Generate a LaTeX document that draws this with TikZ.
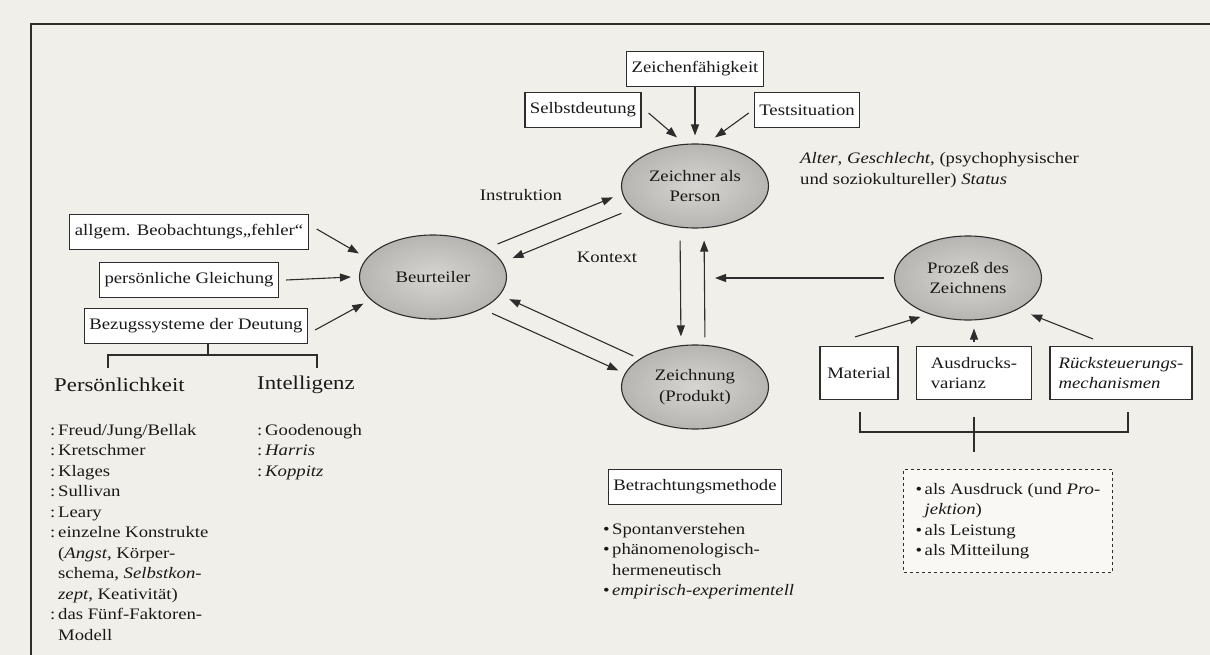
\documentclass[tikz,border=0pt]{standalone}
\usepackage{fontspec}
\setmainfont{Liberation Serif}[FakeStretch=1.17, UprightFont=*, ItalicFont=* Italic, BoldFont=* Bold]
\usetikzlibrary{arrows.meta,positioning,shapes.geometric}
\definecolor{papier}{RGB}{241,239,233}
\definecolor{strich}{RGB}{45,45,45}
\definecolor{ovalhell}{RGB}{214,213,209}
\definecolor{ovaldunkel}{RGB}{182,181,177}
\newcommand{\dopp}{\makebox[8pt][l]{:}}
\newcommand{\einz}{\hspace*{8pt}}
\newcommand{\pkt}{\makebox[9pt][l]{\textbullet}}
\newcommand{\pein}{\hspace*{9pt}}

\begin{document}
\begin{tikzpicture}[x=1pt, y=-1pt, font=\fontsize{16}{20.5}\selectfont, text=black!90,
  box/.style={draw=strich, fill=white, line width=1.1pt, minimum height=35pt, inner xsep=5pt},
  oval/.style={ellipse, draw=strich, line width=1.1pt, shade, inner color=ovalhell, outer color=ovaldunkel, minimum width=147pt, minimum height=84pt, inner sep=0pt, align=center},
  pfeil/.style={draw=strich, line width=1.1pt, -{Triangle[length=11pt,width=8pt]}},
  linie/.style={draw=strich, line width=1.1pt},
  liste/.style={align=left, inner sep=0pt, anchor=north west},
  titel/.style={font=\fontsize{19.5}{22}\selectfont, anchor=west, inner sep=0pt}]
  \useasboundingbox (0,0) rectangle (1210,655);
  \fill[papier] (0,0) rectangle (1210,655);
  \draw[strich, line width=1.6pt] (31,655) -- (31,24) -- (1210,24);

  \node[oval] (zeichner) at (695,186) {Zeichner als\\Person};
  \node[oval] (beurt) at (433,277) {Beurteiler};
  \node[oval, below of=zeichner, node distance=201pt] (zeichn) {Zeichnung\\(Produkt)};
  \node[oval] (prozess) at (968,278) {Prozeß des\\Zeichnens};

  \node[box, above of=zeichner, node distance=117pt] (zfaeh) {Zeichenfähigkeit};
  \node[box, left of=zfaeh, node distance=112pt, yshift=-41pt] (selbstd) {Selbstdeutung};
  \node[box, right of=zfaeh, node distance=112pt, yshift=-41pt] (testsit) {Testsituation};
  \node[anchor=west, align=left, inner sep=0pt] (alter) at (800,170) {\textit{Alter}, \textit{Geschlecht}, (psychophysischer\\und soziokultureller) \textit{Status}};

  \node[box] (allg) at (189,232) {allgem. Beobachtungs„fehler“};
  \node[box, below of=allg, node distance=48pt] (persgl) {persönliche Gleichung};
  \node[box, below of=persgl, node distance=46pt, xshift=7pt] (bezug) {Bezugssysteme der Deutung};

  \node (instr) at (521,195) {Instruktion};
  \node (kontext) at (607,257) {Kontext};

  \coordinate (gabel) at (208,355);
  \coordinate (astL) at (108,368);
  \coordinate (astR) at (317,368);
  \draw[linie] (bezug.south -| gabel) -- (gabel);
  \draw[linie] (astL) |- (gabel) -| (astR);
  \node[titel] (perslk) at (54,385) {Persönlichkeit};
  \node[titel] (intell) at (257,385) {Intelligenz};
  \node[liste] (perslist) at (50,424) {\dopp Freud/Jung/Bellak\\ \dopp Kretschmer\\ \dopp Klages\\ \dopp Sullivan\\ \dopp Leary\\ \dopp einzelne Konstrukte\\ \einz(\textit{Angst}, Körper-\\ \einz schema, \textit{Selbstkon-}\\ \einz\textit{zept}, Keativität)\\ \dopp das Fünf-Faktoren-\\ \einz Modell};
  \node[liste] (intlist) at (257,424) {\dopp Goodenough\\ \dopp\textit{Harris}\\ \dopp\textit{Koppitz}};

  \node[box, below of=zeichn, node distance=100pt] (betr) {Betrachtungsmethode};
  \node[liste] (betrlist) at (603,523) {\pkt Spontanverstehen\\ \pkt phänomenologisch-\\ \pein hermeneutisch\\ \pkt\textit{empirisch-experimentell}};

  \node[box, minimum height=53pt, minimum width=78pt] (material) at (859,373) {Material};
  \node[box, minimum height=53pt, minimum width=115pt, align=left, right of=material, node distance=115pt] (ausdr) {Ausdrucks-\\varianz};
  \node[box, minimum height=53pt, minimum width=142pt, align=left, right of=ausdr, node distance=147pt] (rueck) {\textit{Rücksteuerungs-}\\\textit{mechanismen}};
  \coordinate (klL) at (860,412);
  \coordinate (klR) at (1128,412);
  \draw[linie] (klL) -- ++(0,20) -| (klR);
  \draw[linie] ([yshift=-17pt]ausdr.south) -- ++(0,35);
  \node[draw=strich, dashed, line width=1.1pt, fill=white!55!papier, minimum width=207pt, minimum height=103pt, align=left, inner xsep=12pt] (formen) at (1008,521) {\pkt als Ausdruck (und \textit{Pro-}\\ \pein\textit{jektion})\\ \pkt als Leistung\\ \pkt als Mitteilung};

  \draw[pfeil] ([xshift=7pt,yshift=-3pt]selbstd.east) -- ([xshift=-18pt,yshift=6pt]zeichner.north);
  \draw[pfeil] (zfaeh) -- ([yshift=8pt]zeichner.north);
  \draw[pfeil] ([xshift=-5pt,yshift=-3pt]testsit.west) -- ([xshift=20pt,yshift=6pt]zeichner.north);

  \draw[pfeil, shorten >=9pt] ([xshift=8pt,yshift=3pt]allg.east) -- (beurt.164);
  \draw[pfeil] ([xshift=7pt]persgl.east) -- ([xshift=-8pt]beurt.west);
  \draw[pfeil, shorten >=8pt] ([xshift=7pt,yshift=-4pt]bezug.east) -- (beurt.200);

  \draw[pfeil, shorten <=11pt, shorten >=10pt] (beurt.28) -- (zeichner.186);
  \draw[pfeil, shorten <=12pt, shorten >=11pt] (zeichner.200) -- (beurt.12);
  \draw[pfeil, shorten <=11pt, shorten >=7pt] (beurt.-33) -- (zeichn.169);
  \draw[pfeil, shorten <=7pt, shorten >=10pt] (zeichn.153) -- (beurt.-15);

  \draw[pfeil, shorten <=12pt, shorten >=8pt] ([xshift=-15pt]zeichner.south) -- ([xshift=-14pt]zeichn.north);
  \draw[pfeil, shorten <=7pt, shorten >=12pt] ([xshift=10pt]zeichn.north) -- ([xshift=9pt]zeichner.south);
  \draw[pfeil, shorten <=10pt] (prozess.west) -- ([xshift=20pt]prozess.west -| zeichn.north);

  \draw[pfeil, shorten >=9pt] ([xshift=-4pt,yshift=9pt]material.north) -- (prozess.223);
  \draw[pfeil, shorten >=8pt] ([yshift=4pt]ausdr.north) -- (ausdr.north |- prozess.south);
  \draw[pfeil, shorten >=14pt] ([xshift=-28pt,yshift=7pt]rueck.north) -- (prozess.-32);
\end{tikzpicture}
\end{document}
